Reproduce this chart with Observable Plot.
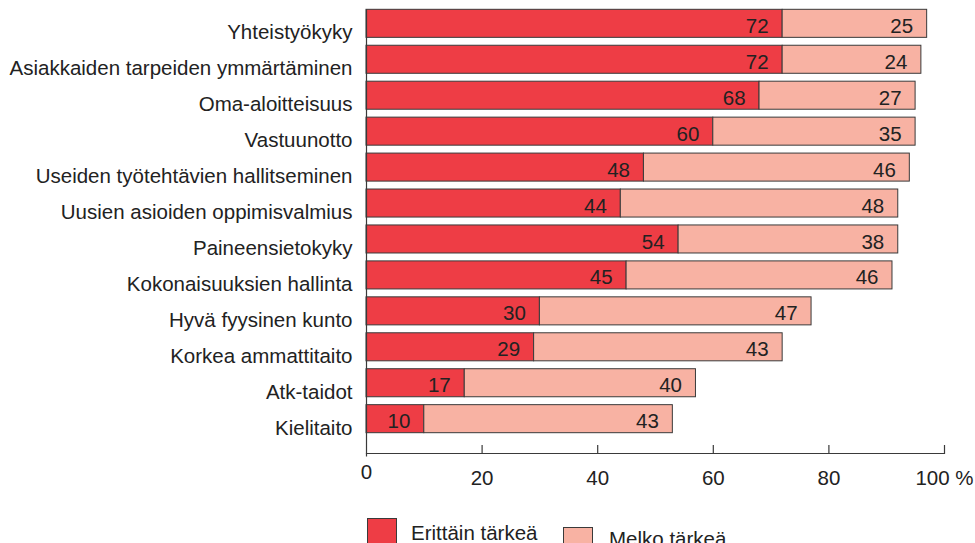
<!DOCTYPE html>
<html>
<head>
<meta charset="utf-8">
<script src="https://cdn.jsdelivr.net/npm/d3@7"></script>
<script src="https://cdn.jsdelivr.net/npm/@observablehq/plot@0.6"></script>
<style>
  html, body { margin: 0; padding: 0; background: #fff; overflow: hidden; }
  #wrap { position: relative; width: 975px; height: 543px; font-family: "Liberation Sans", Arial, sans-serif; }
  .sw { position: absolute; width: 30px; height: 30px; box-sizing: border-box; border: 1px solid #3a3a3a; }
  .lt { position: absolute; font-size: 20.5px; line-height: 1; color: #222; white-space: nowrap; }
</style>
</head>
<body>
<div id="wrap"></div>
<script>
const categories = [
  "Yhteistyökyky",
  "Asiakkaiden tarpeiden ymmärtäminen",
  "Oma-aloitteisuus",
  "Vastuunotto",
  "Useiden työtehtävien hallitseminen",
  "Uusien asioiden oppimisvalmius",
  "Paineensietokyky",
  "Kokonaisuuksien hallinta",
  "Hyvä fyysinen kunto",
  "Korkea ammattitaito",
  "Atk-taidot",
  "Kielitaito"
];
const seriesNames = ["Erittäin tärkeä", "Melko tärkeä"];
const erittainTarkea = [72, 72, 68, 60, 48, 44, 54, 45, 30, 29, 17, 10];
const melkoTarkea    = [25, 24, 27, 35, 46, 48, 38, 46, 47, 43, 40, 43];
const xTicks = [0, 20, 40, 60, 80, 100];
const colors = ["#ee3d45", "#f8b2a3"];

const rows = [];
categories.forEach((c, i) => {
  rows.push({cat: c, series: seriesNames[0], value: erittainTarkea[i]});
  rows.push({cat: c, series: seriesNames[1], value: melkoTarkea[i]});
});

const H = 500, mTop = 1.4, mBottom = 47;
const font = "'Liberation Sans', Arial, sans-serif";

const chart = Plot.plot({
  width: 975,
  height: H,
  marginLeft: 366,
  marginRight: 31,
  marginTop: mTop,
  marginBottom: mBottom,
  style: {fontFamily: font, fontSize: "20.5px", color: "#222", background: "#fff"},
  x: {domain: [0, 100], axis: null},
  y: {domain: categories, padding: 0.22, round: false, insetBottom: 12.4, axis: null},
  color: {domain: seriesNames, range: colors},
  marks: [
    Plot.barX(rows, {y: "cat", x: "value", fill: "series", stroke: "#3a3a3a", strokeWidth: 1, order: seriesNames}),
    Plot.text(rows, Plot.stackX2({y: "cat", x: "value", z: "series", order: seriesNames, text: "value", textAnchor: "end", dx: -14, dy: 2.5, fill: "#222", fontSize: 20.5})),
    Plot.text(categories, {y: d => d, frameAnchor: "left", text: d => d, textAnchor: "end", dx: -14, dy: 9, fill: "#222", fontSize: 20.5}),
    Plot.ruleX([0], {stroke: "#3a3a3a", strokeWidth: 1.2, insetTop: 8, insetBottom: -3.5}),
    Plot.frame({anchor: "bottom", stroke: "#3a3a3a", strokeWidth: 1.2}),
    Plot.ruleX(xTicks.slice(1), {x: d => d, stroke: "#3a3a3a", strokeWidth: 1.2, insetTop: H - mTop - mBottom - 8}),
    Plot.text(xTicks.slice(1), {x: d => d, frameAnchor: "bottom", lineAnchor: "top", text: d => d === 100 ? "100 %" : String(d), dy: 17, fill: "#222", fontSize: 20.5}),
    Plot.text(xTicks.slice(0, 1), {x: d => d, frameAnchor: "bottom", lineAnchor: "top", text: d => String(d), dy: 11, fill: "#222", fontSize: 20.5})
  ]
});

const wrap = document.getElementById("wrap");
chart.style.position = "absolute";
chart.style.left = "0px";
chart.style.top = "0px";
wrap.appendChild(chart);

// legend below the plot
const legendItems = [
  {name: seriesNames[0], color: colors[0], swLeft: 367, swTop: 518, txLeft: 411, txTop: 523},
  {name: seriesNames[1], color: colors[1], swLeft: 563, swTop: 527, txLeft: 609, txTop: 529}
];
legendItems.forEach(it => {
  const sw = document.createElement("div");
  sw.className = "sw";
  sw.style.left = it.swLeft + "px";
  sw.style.top = it.swTop + "px";
  sw.style.background = it.color;
  wrap.appendChild(sw);
  const tx = document.createElement("div");
  tx.className = "lt";
  tx.style.left = it.txLeft + "px";
  tx.style.top = it.txTop + "px";
  tx.textContent = it.name;
  wrap.appendChild(tx);
});
</script>
</body>
</html>
